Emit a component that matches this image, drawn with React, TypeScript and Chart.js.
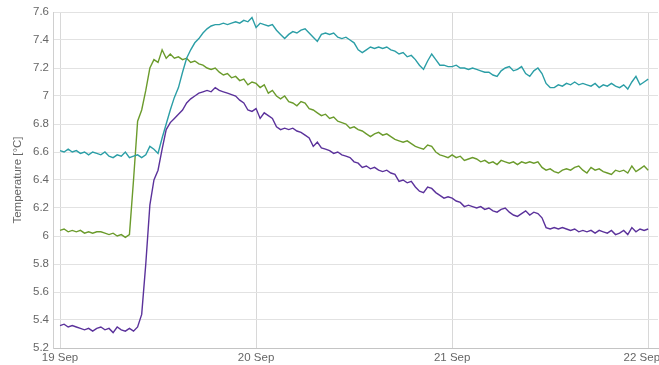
import React, { useEffect, useRef } from "react";
import { Chart, registerables } from "chart.js";

Chart.register(...registerables);

// Logger sampling interval (hours) – readings start 19 Sep 00:00
const SAMPLE_STEP_HOURS = 0.5;

const seriesNames = ["Sensor A", "Sensor B", "Sensor C"];

const tealValues = [
  6.61, 6.60, 6.62, 6.60, 6.61, 6.59, 6.60, 6.58, 6.60, 6.59, 6.58, 6.60,
  6.57, 6.56, 6.58, 6.57, 6.60, 6.56, 6.57, 6.58, 6.56, 6.58, 6.64, 6.62,
  6.59, 6.70, 6.80, 6.90, 6.99, 7.06, 7.17, 7.27, 7.33, 7.38, 7.41, 7.45,
  7.48, 7.50, 7.51, 7.51, 7.52, 7.51, 7.52, 7.53, 7.52, 7.54, 7.53, 7.56,
  7.49, 7.52, 7.51, 7.50, 7.51, 7.47, 7.44, 7.41, 7.44, 7.46, 7.45, 7.47,
  7.48, 7.45, 7.42, 7.39, 7.44, 7.45, 7.44, 7.45, 7.42, 7.41, 7.42, 7.40,
  7.38, 7.33, 7.31, 7.33, 7.35, 7.34, 7.35, 7.34, 7.35, 7.33, 7.32, 7.30,
  7.31, 7.28, 7.29, 7.26, 7.22, 7.19, 7.25, 7.30, 7.26, 7.22, 7.22, 7.21,
  7.21, 7.22, 7.20, 7.20, 7.19, 7.20, 7.19, 7.18, 7.17, 7.17, 7.15, 7.14,
  7.18, 7.20, 7.21, 7.18, 7.19, 7.21, 7.16, 7.14, 7.18, 7.20, 7.16, 7.09,
  7.06, 7.06, 7.08, 7.07, 7.09, 7.08, 7.10, 7.08, 7.09, 7.08, 7.07, 7.09,
  7.06, 7.08, 7.07, 7.09, 7.07, 7.06, 7.08, 7.05, 7.10, 7.14, 7.08, 7.10,
  7.12,
];

const greenValues = [
  6.04, 6.05, 6.03, 6.04, 6.03, 6.04, 6.02, 6.03, 6.02, 6.03, 6.03, 6.02,
  6.01, 6.02, 6.00, 6.01, 5.99, 6.01, 6.40, 6.82, 6.90, 7.04, 7.20, 7.26,
  7.24, 7.33, 7.27, 7.30, 7.27, 7.28, 7.26, 7.27, 7.24, 7.25, 7.23, 7.22,
  7.20, 7.19, 7.20, 7.17, 7.15, 7.16, 7.13, 7.14, 7.11, 7.12, 7.08, 7.10,
  7.09, 7.06, 7.08, 7.02, 7.04, 7.00, 6.98, 7.00, 6.96, 6.95, 6.93, 6.96,
  6.95, 6.91, 6.90, 6.88, 6.86, 6.87, 6.84, 6.85, 6.82, 6.81, 6.80, 6.77,
  6.78, 6.76, 6.75, 6.73, 6.71, 6.73, 6.74, 6.72, 6.73, 6.71, 6.69, 6.68,
  6.67, 6.68, 6.66, 6.64, 6.63, 6.62, 6.65, 6.64, 6.60, 6.58, 6.57, 6.56,
  6.58, 6.56, 6.57, 6.54, 6.55, 6.56, 6.55, 6.53, 6.54, 6.52, 6.53, 6.51,
  6.54, 6.53, 6.52, 6.53, 6.51, 6.53, 6.52, 6.53, 6.52, 6.53, 6.49, 6.47,
  6.48, 6.46, 6.45, 6.47, 6.48, 6.47, 6.49, 6.50, 6.47, 6.45, 6.49, 6.47,
  6.48, 6.46, 6.45, 6.44, 6.47, 6.46, 6.47, 6.45, 6.50, 6.46, 6.48, 6.50,
  6.47,
];

const purpleValues = [
  5.36, 5.37, 5.35, 5.36, 5.35, 5.34, 5.33, 5.34, 5.32, 5.34, 5.35, 5.33,
  5.34, 5.31, 5.35, 5.33, 5.32, 5.34, 5.32, 5.35, 5.44, 5.80, 6.22, 6.40,
  6.47, 6.62, 6.76, 6.81, 6.84, 6.87, 6.90, 6.95, 6.98, 7.00, 7.02, 7.03,
  7.04, 7.03, 7.06, 7.04, 7.03, 7.02, 7.01, 7.00, 6.97, 6.95, 6.90, 6.89,
  6.91, 6.84, 6.88, 6.86, 6.84, 6.78, 6.76, 6.77, 6.76, 6.77, 6.75, 6.74,
  6.72, 6.70, 6.64, 6.67, 6.63, 6.62, 6.61, 6.59, 6.60, 6.58, 6.57, 6.56,
  6.53, 6.52, 6.49, 6.50, 6.48, 6.49, 6.47, 6.46, 6.47, 6.45, 6.44, 6.39,
  6.40, 6.38, 6.39, 6.35, 6.32, 6.31, 6.35, 6.34, 6.31, 6.29, 6.27, 6.28,
  6.27, 6.25, 6.24, 6.21, 6.22, 6.21, 6.20, 6.21, 6.19, 6.20, 6.18, 6.17,
  6.19, 6.20, 6.17, 6.15, 6.14, 6.16, 6.18, 6.15, 6.17, 6.16, 6.13, 6.06,
  6.05, 6.06, 6.05, 6.06, 6.05, 6.04, 6.05, 6.03, 6.04, 6.03, 6.04, 6.02,
  6.04, 6.03, 6.02, 6.04, 6.01, 6.02, 6.04, 6.01, 6.06, 6.03, 6.05, 6.04,
  6.05,
];

const xTickHours = [0, 24, 48, 72];
const xTickLabels = ["19 Sep", "20 Sep", "21 Sep", "22 Sep"];

const yMin = 5.2;
const yMax = 7.6;
const yStep = 0.2;

const COLORS = ["#2b9ea6", "#6b9b2c", "#5b329b"];
const FONT = '"Liberation Sans", Arial, sans-serif';

function toPoints(values: number[]) {
  return values.map((v, i) => ({ x: i * SAMPLE_STEP_HOURS, y: v }));
}

export default function App() {
  const canvasRef = useRef<HTMLCanvasElement | null>(null);

  useEffect(() => {
    const canvas = canvasRef.current;
    if (!canvas) return;
    const seriesValues = [tealValues, greenValues, purpleValues];
    const chart = new Chart(canvas, {
      type: "line",
      data: {
        datasets: seriesValues.map((vals, i) => ({
          label: seriesNames[i],
          data: toPoints(vals),
          borderColor: COLORS[i],
          backgroundColor: COLORS[i],
          borderWidth: 1.4,
          pointRadius: 0,
          tension: 0,
          fill: false,
        })),
      },
      options: {
        animation: false,
        responsive: false,
        maintainAspectRatio: false,
        layout: { padding: { top: 12, right: 1, bottom: 0, left: 0 } },
        plugins: {
          legend: { display: false },
          tooltip: { enabled: false },
        },
        scales: {
          x: {
            type: "linear",
            min: -0.857,
            max: 73.2,
            border: { display: true, color: "#c4c4c4", width: 1 },
            grid: { color: "#d8d8d8", drawTicks: false, lineWidth: 1 },
            afterBuildTicks: (scale: any) => {
              scale.ticks = xTickHours.map((v) => ({ value: v }));
            },
            afterFit: (scale: any) => {
              scale.height = 17;
              scale.paddingLeft = 0;
              scale.paddingRight = 0;
            },
            ticks: {
              autoSkip: false,
              maxRotation: 0,
              padding: 3,
              color: "#666",
              font: { family: FONT, size: 11.5 },
              callback: (value: any) => {
                const idx = xTickHours.indexOf(Number(value));
                if (idx < 0) return "";
                return idx === xTickHours.length - 1
                  ? xTickLabels[idx] + "    "
                  : xTickLabels[idx];
              },
            },
          },
          y: {
            type: "linear",
            min: yMin,
            max: yMax,
            border: { display: true, color: "#cfcfcf", width: 1 },
            grid: { color: "#e2e2e2", drawTicks: false, lineWidth: 1 },
            afterFit: (scale: any) => {
              scale.width = 53;
            },
            ticks: {
              stepSize: yStep,
              padding: 4,
              color: "#666",
              font: { family: FONT, size: 11.5 },
              callback: (value: any) => String(Number(Number(value).toFixed(1))),
            },
            title: {
              display: true,
              text: "Temperature [°C]",
              color: "#666",
              font: { family: FONT, size: 11.5 },
              padding: { top: 11, bottom: 0 },
            },
          },
        },
      },
    });
    return () => chart.destroy();
  }, []);

  return (
    <div style={{ position: "fixed", left: 0, top: 0, width: 659, height: 365, background: "#fff" }}>
      <canvas ref={canvasRef} width={659} height={365} style={{ width: 659, height: 365, display: "block" }} />
    </div>
  );
}
